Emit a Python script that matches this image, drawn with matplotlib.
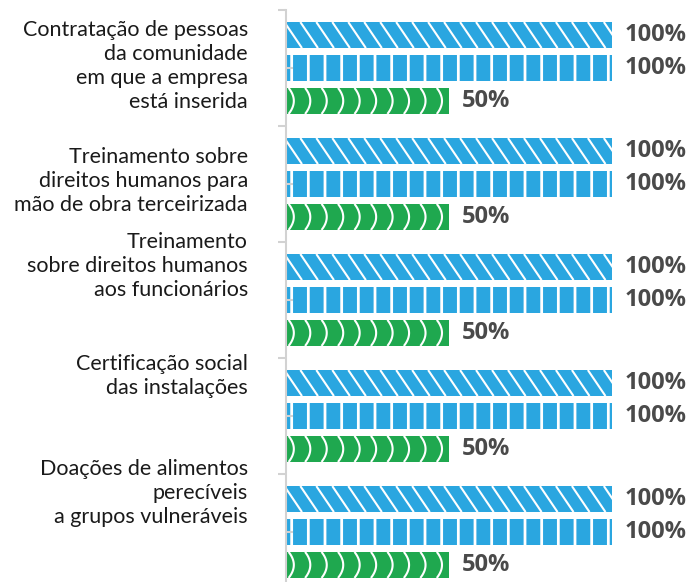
import matplotlib
matplotlib.use("Agg")
import matplotlib.pyplot as plt
import matplotlib.transforms as mtransforms
import numpy as np

# Categories and the three series (percent)
categorias = [
    "Contratação de pessoas\nda comunidade\nem que a empresa\nestá inserida",
    "Treinamento sobre\ndireitos humanos para\nmão de obra terceirizada",
    "Treinamento\nsobre direitos humanos\naos funcionários",
    "Certificação social\ndas instalações",
    "Doações de alimentos\nperecíveis\na grupos vulneráveis",
]
serie_listras = [100, 100, 100, 100, 100]
serie_quadros = [100, 100, 100, 100, 100]
serie_arcos = [50, 50, 50, 50, 50]

# vertical position of each category label inside its band (0 = top of band)
label_pos = [0.48, 0.475, 0.205, 0.155, 0.165]

azul = "#2aa6e0"
verde = "#1fa84f"
cinza_txt = "#4a4a4a"
cinza_eixo = "#d2d2d2"

plt.rcParams["hatch.linewidth"] = 2.0

fig = plt.figure(figsize=(6.93, 5.82), dpi=100)
ax = fig.add_axes([286 / 693, 1 - 590 / 582, 326 / 693, 580 / 582])

n = len(categorias)
centros = np.arange(n) + 0.5
passo = 0.284
altura = 0.224

listras = ax.barh(centros - passo, serie_listras, height=altura, color=azul,
                  edgecolor="white", linewidth=0)
ax.barh(centros, serie_quadros, height=altura, color=azul,
        edgecolor="white", linewidth=0, hatch="|")
verdes = ax.barh(centros + passo, serie_arcos, height=altura, color=verde,
                 edgecolor="white", linewidth=0)

# white diagonal stripes on the first bar of each group
esp = 4.9
incl = 5.4
for barra, v, yc in zip(listras, serie_listras, centros - passo):
    for x0 in np.arange(-incl, v, esp):
        ln, = ax.plot([x0, x0 + incl], [yc - altura / 2, yc + altura / 2],
                      color="white", lw=1.5, solid_capstyle="butt")
        ln.set_clip_path(barra)

# white ")" arcs across the green bars
esp_arco = 5.05
bojo = 1.6
t = np.linspace(-1, 1, 30)
for barra, v, yc in zip(verdes, serie_arcos, centros + passo):
    for x0 in np.arange(0.8, v, esp_arco):
        xs = x0 + bojo * (1 - t ** 2)
        ys = yc + t * altura / 2
        ln, = ax.plot(xs, ys, color="white", lw=1.5, solid_capstyle="butt")
        ln.set_clip_path(barra)

# value labels
for serie, off in ((serie_listras, -passo), (serie_quadros, 0), (serie_arcos, passo)):
    for v, yc in zip(serie, centros + off):
        ax.text(v + 4, yc, f"{v}%", va="center", ha="left",
                fontsize=17, fontweight="bold", family="Open Sans",
                color=cinza_txt, clip_on=False)

# category labels
trans = mtransforms.blended_transform_factory(ax.transAxes, ax.transData)
for i, (cat, p) in enumerate(zip(categorias, label_pos)):
    ax.text(-0.117, i + p, cat, transform=trans, ha="right", va="center",
            multialignment="right", fontsize=15.5, family="Lato",
            color="#1a1a1a", linespacing=1.25)

ax.set_xlim(0, 100)
ax.set_ylim(n, 0)
for s in ("top", "right", "bottom"):
    ax.spines[s].set_visible(False)
ax.spines["left"].set_color(cinza_eixo)
ax.spines["left"].set_linewidth(1.5)
ax.set_xticks([])
ax.set_yticks(np.arange(n + 1))
ax.set_yticks(centros, minor=True)
ax.set_yticklabels([])
ax.tick_params(axis="y", which="major", direction="out", length=6,
               width=1.5, color=cinza_eixo)
ax.tick_params(axis="y", which="minor", direction="in", length=5,
               width=1.5, color=cinza_eixo)
ax.set_facecolor("none")

fig.savefig("out.png", dpi=100)
